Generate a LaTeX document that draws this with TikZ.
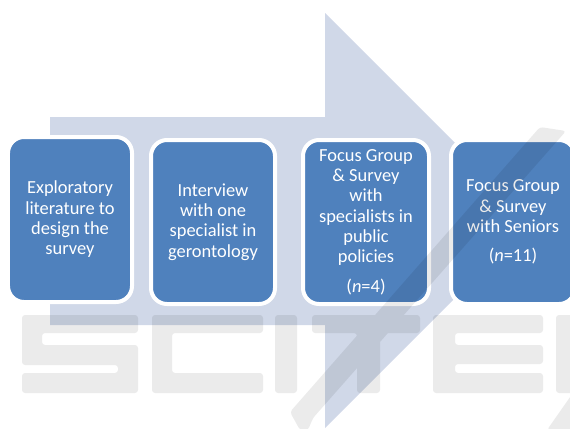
\documentclass[tikz,border=0pt]{standalone}
\usepackage{fontspec}
\setmainfont{Carlito}
\definecolor{arrowfill}{HTML}{D0D8E8}
\definecolor{boxblue}{HTML}{4F81BD}
\begin{document}
\begin{tikzpicture}[x=1bp,y=-1bp,
  stepbox/.style={rectangle, rounded corners=16bp, fill=boxblue, draw=white,
    line width=4bp, text=white, align=center, inner sep=0pt,
    font=\fontsize{18.5}{20.4}\selectfont},
  wmark/.style={fill=black, opacity=0.08, rounded corners=3bp}]
\useasboundingbox (0,0) rectangle (570,428);
\clip (0,0) rectangle (570,428);
% big background arrow
\fill[arrowfill] (50,117) -- (325,117) -- (325,13) -- (532.5,220.5)
  -- (325,428) -- (325,325) -- (50,325) -- cycle;
% steps
\node[stepbox, minimum width=124bp, minimum height=165bp] (b1) at (70,219.5)
  {Exploratory\\literature to\\design the\\survey};
\node[stepbox, minimum width=124bp, minimum height=164bp] (b2) at (213,222)
  {Interview\\with one\\specialist in\\gerontology};
\node[stepbox, minimum width=126bp, minimum height=164bp] (b3) at (366,222)
  {Focus Group\\\& Survey\\with\\specialists in\\public\\policies\\[9bp](\textit{n}=4)};
\node[stepbox, minimum width=124bp, minimum height=164bp] (b4) at (513,222)
  {Focus Group\\\& Survey\\with Seniors\\[9bp](\textit{n}=11)};
% faint watermark
\path[wmark]
  (22,315) -- (138,315) -- (138,333) -- (42,333) -- (42,345) -- (138,345)
  -- (138,393) -- (22,393) -- (22,373) -- (118,373) -- (118,365) -- (22,365) -- cycle
  (152,315) -- (263,315) -- (263,333) -- (172,333) -- (172,373) -- (263,373)
  -- (263,393) -- (152,393) -- cycle
  (275,315) -- (297,315) -- (297,393) -- (275,393) -- cycle
  (312,315) -- (420,315) -- (420,333) -- (380,333) -- (380,393) -- (357,393)
  -- (357,333) -- (312,333) -- cycle
  (433,315) -- (543,315) -- (543,333) -- (455,333) -- (455,345) -- (543,345)
  -- (543,364) -- (455,364) -- (455,373) -- (543,373) -- (543,393) -- (433,393) -- cycle
  (556,315) -- (580,315) -- (580,393) -- (556,393) -- cycle
  (290,412) -- (540,127) -- (566,131) -- (313,418) -- (308,430) -- (300,430) -- cycle
  (547,430) -- (575,390) -- (590,390) -- (590,430) -- cycle;
\end{tikzpicture}
\end{document}
